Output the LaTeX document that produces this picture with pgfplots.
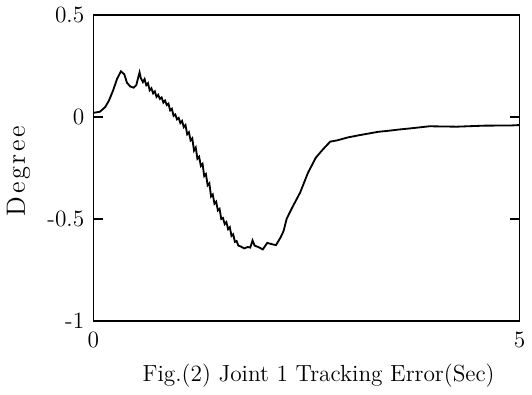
\documentclass[border=0pt]{standalone}
\usepackage{pgfplots}
\pgfplotsset{compat=1.18}
\begin{document}
\begin{tikzpicture}[font=\fontsize{11.5}{13}\selectfont]
\begin{axis}[
  scale only axis,
  width=210pt, height=151pt,
  xmin=0, xmax=5, ymin=-1, ymax=0.5,
  xtick={0,5}, xticklabels={0,5},
  ytick={-1,-0.5,0,0.5}, yticklabels={-1,-0.5,0,0.5},
  ytick pos=both, xtick pos=bottom,
  tick align=inside,
  major tick length=4.5pt,
  axis line style={line width=0.9pt},
  every tick/.style={black, line width=0.8pt},
  xticklabel style={yshift=-2pt},
  yticklabel style={xshift=-1pt},
  xlabel={Fig.(2) Joint 1 Tracking Error(Sec)},
  xlabel style={yshift=-1pt, xshift=6pt},
  ylabel={D\kern1.3pt e\kern1.3pt g\kern1.3pt r\kern1.3pt e\kern1.3pt e},
  ylabel style={at={(axis description cs:-0.176,0.49)}, anchor=center,
    font=\fontsize{13}{15}\selectfont},
  clip=true,
]
\addplot[black, line width=0.9pt] coordinates {
(0.000,0.020) (0.075,0.025) (0.138,0.048) (0.182,0.080) (0.230,0.129)
(0.277,0.186) (0.322,0.223) (0.361,0.209) (0.394,0.167) (0.431,0.149)
(0.471,0.143) (0.503,0.156) (0.541,0.218) (0.556,0.190)
(0.58,0.170) (0.60,0.185) (0.62,0.155) (0.64,0.165) (0.66,0.130)
(0.68,0.140) (0.70,0.115) (0.72,0.125) (0.74,0.098) (0.76,0.108)
(0.78,0.088) (0.80,0.095) (0.82,0.070) (0.84,0.080) (0.86,0.058)
(0.88,0.065) (0.90,0.032) (0.92,0.040) (0.94,0.005) (0.96,0.012)
(0.98,-0.012) (1.00,-0.005) (1.02,-0.030) (1.04,-0.020) (1.06,-0.050)
(1.08,-0.040) (1.10,-0.085) (1.12,-0.075) (1.14,-0.115) (1.16,-0.105)
(1.18,-0.165) (1.20,-0.150) (1.22,-0.205) (1.24,-0.195) (1.26,-0.240)
(1.28,-0.230) (1.30,-0.290) (1.32,-0.280) (1.34,-0.335) (1.36,-0.325)
(1.38,-0.390) (1.40,-0.380) (1.42,-0.425) (1.44,-0.415) (1.46,-0.458)
(1.48,-0.450) (1.50,-0.500) (1.52,-0.495) (1.54,-0.525) (1.56,-0.515)
(1.58,-0.550) (1.60,-0.540) (1.62,-0.583) (1.64,-0.575) (1.66,-0.612)
(1.68,-0.608) (1.70,-0.630) (1.731,-0.635) (1.769,-0.644) (1.810,-0.637)
(1.840,-0.640) (1.867,-0.605) (1.891,-0.630) (1.949,-0.640) (1.987,-0.649)
(2.039,-0.617) (2.091,-0.623) (2.142,-0.628) (2.196,-0.590) (2.230,-0.560)
(2.268,-0.498) (2.335,-0.442) (2.426,-0.370) (2.518,-0.273) (2.609,-0.200)
(2.695,-0.158) (2.779,-0.121) (2.860,-0.115) (2.981,-0.101) (3.102,-0.091)
(3.222,-0.082) (3.343,-0.073) (3.463,-0.068) (3.583,-0.062) (3.703,-0.057)
(3.943,-0.046) (4.262,-0.048) (4.580,-0.043) (4.899,-0.042) (5.000,-0.040)
};
\end{axis}
\end{tikzpicture}
\end{document}
